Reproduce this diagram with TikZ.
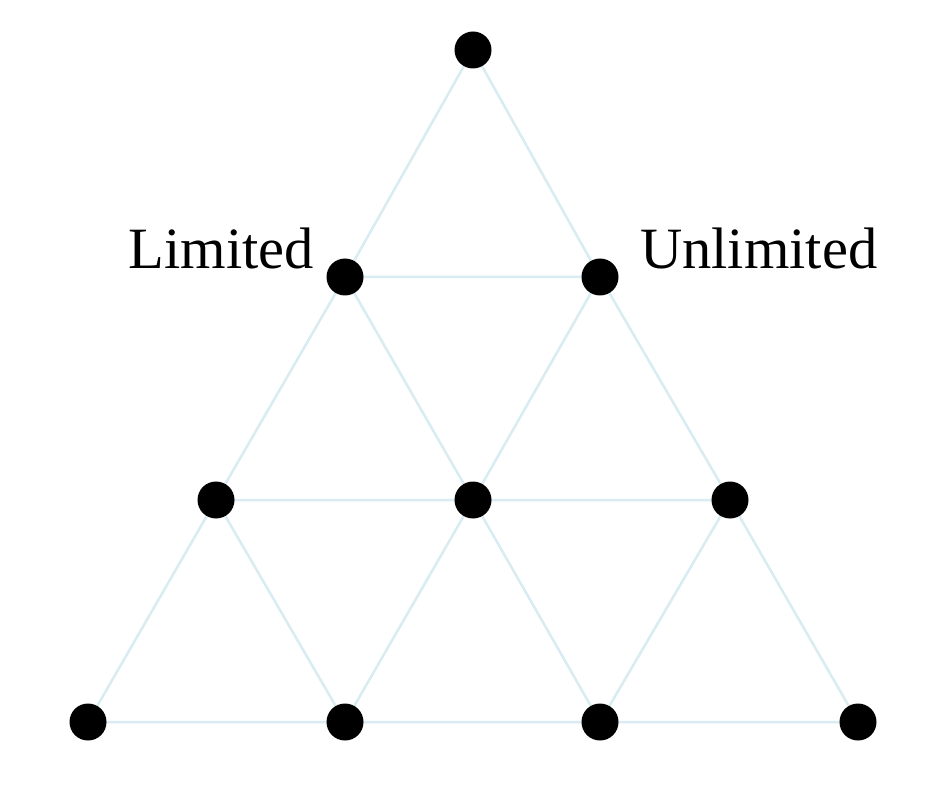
\documentclass[tikz,border=0pt]{standalone}
\usepackage{fontspec}
\setmainfont{Liberation Serif}
\definecolor{edgeblue}{RGB}{216,236,241}
\begin{document}
\begin{tikzpicture}[x=1pt,y=-1pt,
  dot/.style={circle,fill=black,inner sep=0pt,minimum size=37pt},
  edge/.style={draw=edgeblue,line width=2.5pt},
  lbl/.style={font=\fontsize{58.5}{62}\selectfont,inner sep=0pt}]
\useasboundingbox[fill=white] (0,0) rectangle (948,794);
\coordinate (t) at (473,50);
\coordinate (a1) at (345,277);
\coordinate (a2) at (600,277);
\coordinate (b1) at (216,500);
\coordinate (b2) at (473,500);
\coordinate (b3) at (730,500);
\coordinate (c1) at (88,722);
\coordinate (c2) at (345,722);
\coordinate (c3) at (600,722);
\coordinate (c4) at (858,722);
\path[edge] (t) -- (a1) (t) -- (a2) (a1) -- (a2)
  (a1) -- (b1) (a1) -- (b2) (a2) -- (b2) (a2) -- (b3)
  (b1) -- (b2) (b2) -- (b3)
  (b1) -- (c1) (b1) -- (c2) (b2) -- (c2) (b2) -- (c3) (b3) -- (c3) (b3) -- (c4)
  (c1) -- (c2) (c2) -- (c3) (c3) -- (c4);
\foreach \n in {t,a1,a2,b1,b2,b3,c1,c2,c3,c4} \node[dot] (n\n) at (\n) {};
\node[lbl,anchor=base east] (lim) at (314,269) {Limited};
\node[lbl,anchor=base west] (unlim) at (640,269) {Unlimited};
\end{tikzpicture}
\end{document}
